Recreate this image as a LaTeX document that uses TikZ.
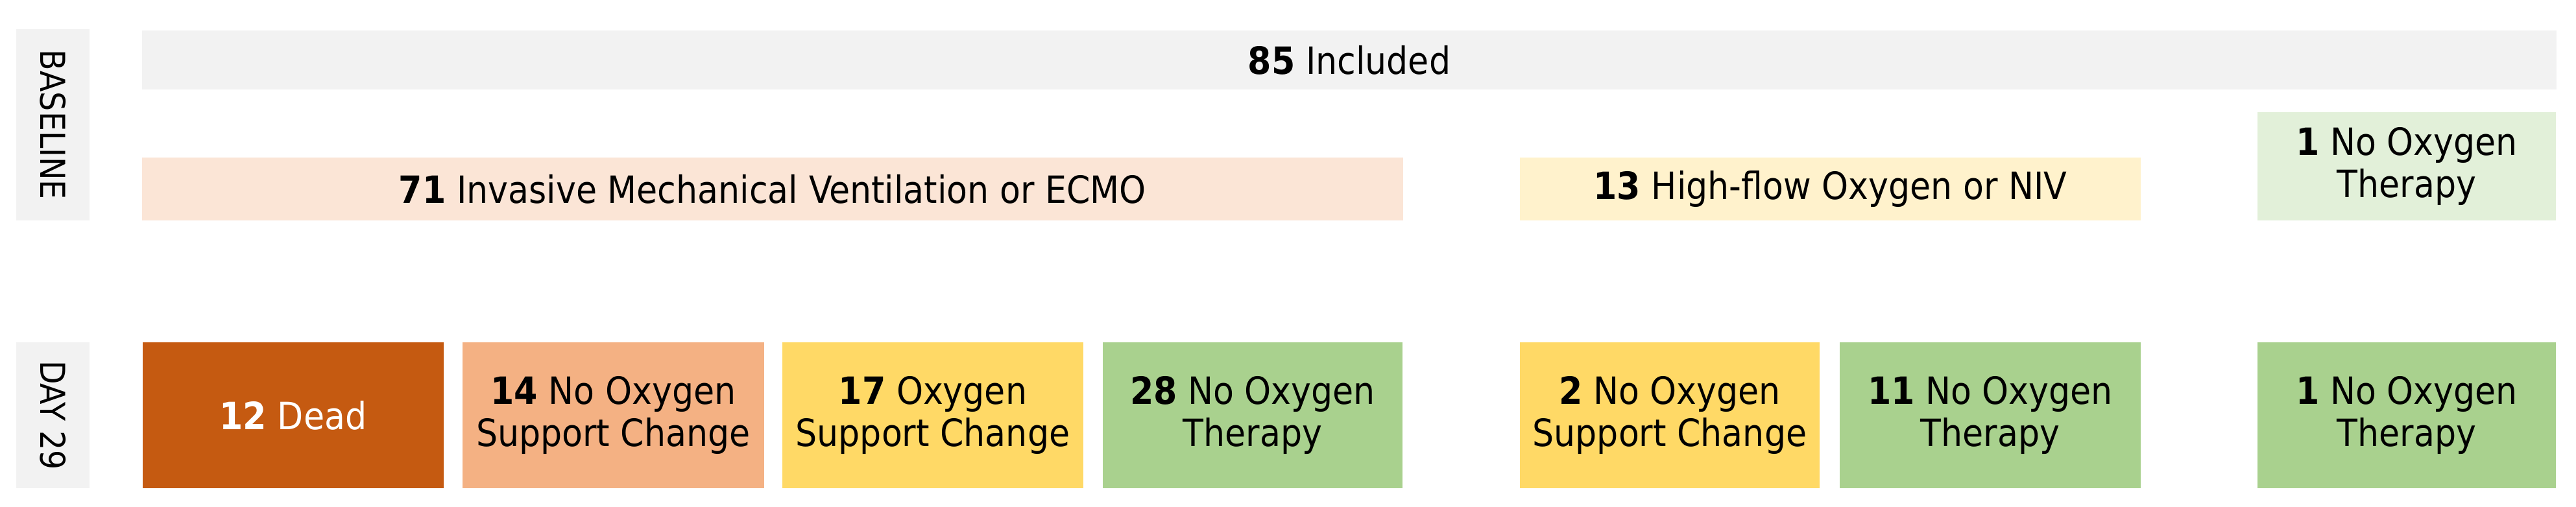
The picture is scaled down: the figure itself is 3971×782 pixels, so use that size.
\documentclass[tikz,border=0pt]{standalone}
\usepackage{fontspec}
\setmainfont{DejaVu Sans Condensed}
\definecolor{cgray}{HTML}{F2F2F2}
\definecolor{cpeach}{HTML}{FBE5D6}
\definecolor{cpyellow}{HTML}{FFF2CC}
\definecolor{cpgreen}{HTML}{E2F0D9}
\definecolor{cdead}{HTML}{C55A11}
\definecolor{corange}{HTML}{F4B183}
\definecolor{cyellow}{HTML}{FFD966}
\definecolor{cgreen}{HTML}{A9D18E}
\tikzset{
  box/.style={rectangle, inner sep=0pt, align=center, text=black,
    font=\fontsize{16.5pt}{18.5pt}\selectfont},
  lab/.style={box, fill=cgray, rotate=-90, font=\fontsize{15pt}{17pt}\selectfont},
  bot/.style={box, minimum height=2.25cm},
}
\begin{document}
\begin{tikzpicture}[x=0.01cm,y=-0.01cm]
\useasboundingbox (0,0) rectangle (3971,782);
% row labels (rotated: width/height swapped)
\node[lab, minimum width=2.95cm, minimum height=1.13cm] (lbase) at (81.5,192.5) {BASELINE};
\node[lab, minimum width=2.25cm, minimum height=1.13cm] (lday) at (81.5,640.5) {DAY 29};
% baseline
\node[box, fill=cgray, minimum width=37.2cm, minimum height=0.91cm] (inc) at (2080,92.5) {\textbf{85} Included};
\node[box, fill=cpeach, minimum width=19.42cm, minimum height=0.97cm] (imv) at (1191,291.5) {\textbf{71} Invasive Mechanical Ventilation or ECMO};
\node[box, fill=cpyellow, minimum width=9.57cm, minimum height=0.97cm] (hfo) at (2821.5,291.5) {\textbf{13} High-flow Oxygen or NIV};
\node[box, fill=cpgreen, minimum width=4.6cm, minimum height=1.67cm] (noo) at (3710,256.5) {\textbf{1} No Oxygen\\Therapy};
% day 29
\node[bot, fill=cdead, text=white, minimum width=4.64cm] (dead) at (452,640.5) {\textbf{12} Dead};
\node[bot, fill=corange, minimum width=4.65cm] (b14) at (945.5,640.5) {\textbf{14} No Oxygen\\Support Change};
\node[bot, fill=cyellow, minimum width=4.64cm] (b17) at (1438,640.5) {\textbf{17} Oxygen\\Support Change};
\node[bot, fill=cgreen, minimum width=4.62cm] (b28) at (1931,640.5) {\textbf{28} No Oxygen\\Therapy};
\node[bot, fill=cyellow, minimum width=4.62cm] (b2) at (2574,640.5) {\textbf{2} No Oxygen\\Support Change};
\node[bot, fill=cgreen, minimum width=4.64cm] (b11) at (3068,640.5) {\textbf{11} No Oxygen\\Therapy};
\node[bot, fill=cgreen, minimum width=4.6cm] (b1) at (3710,640.5) {\textbf{1} No Oxygen\\Therapy};
\end{tikzpicture}
\end{document}
